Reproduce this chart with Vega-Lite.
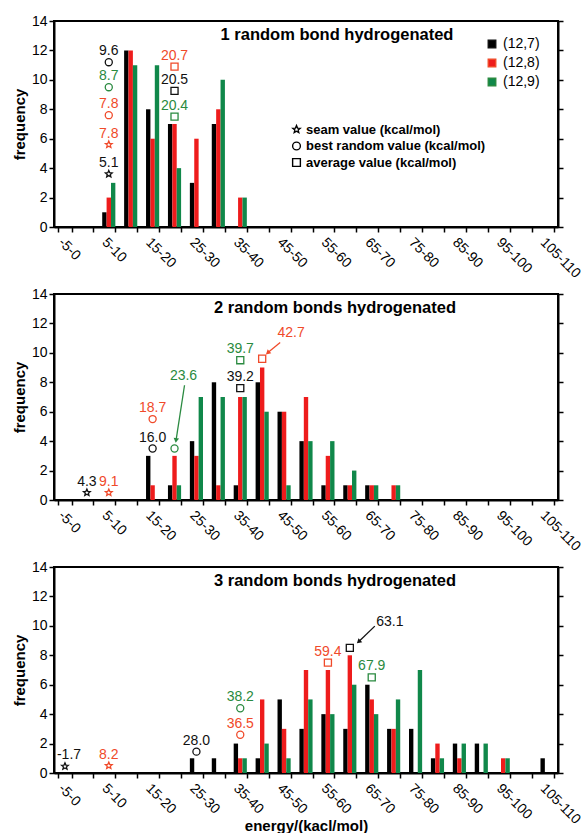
{
"$schema": "https://vega.github.io/schema/vega-lite/v6.json",
"padding": {"left": 11, "top": 13, "right": 0, "bottom": 0},
"background": "white",
"spacing": 67,
"bounds": "flush",
"config": {
  "view": {"stroke": "black", "strokeWidth": 2},
  "axis": {"grid": false, "domainColor": "black", "domainWidth": 2, "tickColor": "black", "tickWidth": 1.5, "tickSize": 5, "labelColor": "black", "titleColor": "black", "labelFont": "Liberation Sans", "titleFont": "Liberation Sans"},
  "legend": {"labelFont": "Liberation Sans", "titleFont": "Liberation Sans"},
  "text": {"font": "Liberation Sans"},
  "title": {"font": "Liberation Sans"}
},
"resolve": {"scale": {"color": "independent", "shape": "independent", "fill": "independent", "stroke": "independent"}},
"datasets": {
  "bars": [
    {"panel":1,"cat":"5-10","series":"(12,7)","freq":1},{"panel":1,"cat":"5-10","series":"(12,8)","freq":2},{"panel":1,"cat":"5-10","series":"(12,9)","freq":3},
    {"panel":1,"cat":"10-15","series":"(12,7)","freq":12},{"panel":1,"cat":"10-15","series":"(12,8)","freq":12},{"panel":1,"cat":"10-15","series":"(12,9)","freq":11},
    {"panel":1,"cat":"15-20","series":"(12,7)","freq":8},{"panel":1,"cat":"15-20","series":"(12,8)","freq":6},{"panel":1,"cat":"15-20","series":"(12,9)","freq":11},
    {"panel":1,"cat":"20-25","series":"(12,7)","freq":7},{"panel":1,"cat":"20-25","series":"(12,8)","freq":7},{"panel":1,"cat":"20-25","series":"(12,9)","freq":4},
    {"panel":1,"cat":"25-30","series":"(12,7)","freq":3},{"panel":1,"cat":"25-30","series":"(12,8)","freq":6},
    {"panel":1,"cat":"30-35","series":"(12,7)","freq":7},{"panel":1,"cat":"30-35","series":"(12,8)","freq":8},{"panel":1,"cat":"30-35","series":"(12,9)","freq":10},
    {"panel":1,"cat":"35-40","series":"(12,8)","freq":2},{"panel":1,"cat":"35-40","series":"(12,9)","freq":2},

    {"panel":2,"cat":"15-20","series":"(12,7)","freq":3},{"panel":2,"cat":"15-20","series":"(12,8)","freq":1},
    {"panel":2,"cat":"20-25","series":"(12,7)","freq":1},{"panel":2,"cat":"20-25","series":"(12,8)","freq":3},{"panel":2,"cat":"20-25","series":"(12,9)","freq":1},
    {"panel":2,"cat":"25-30","series":"(12,7)","freq":4},{"panel":2,"cat":"25-30","series":"(12,8)","freq":3},{"panel":2,"cat":"25-30","series":"(12,9)","freq":7},
    {"panel":2,"cat":"30-35","series":"(12,7)","freq":8},{"panel":2,"cat":"30-35","series":"(12,8)","freq":1},{"panel":2,"cat":"30-35","series":"(12,9)","freq":7},
    {"panel":2,"cat":"35-40","series":"(12,7)","freq":1},{"panel":2,"cat":"35-40","series":"(12,8)","freq":7},{"panel":2,"cat":"35-40","series":"(12,9)","freq":7},
    {"panel":2,"cat":"40-45","series":"(12,7)","freq":8},{"panel":2,"cat":"40-45","series":"(12,8)","freq":9},{"panel":2,"cat":"40-45","series":"(12,9)","freq":6},
    {"panel":2,"cat":"45-50","series":"(12,7)","freq":6},{"panel":2,"cat":"45-50","series":"(12,8)","freq":6},{"panel":2,"cat":"45-50","series":"(12,9)","freq":1},
    {"panel":2,"cat":"50-55","series":"(12,7)","freq":4},{"panel":2,"cat":"50-55","series":"(12,8)","freq":7},{"panel":2,"cat":"50-55","series":"(12,9)","freq":4},
    {"panel":2,"cat":"55-60","series":"(12,7)","freq":1},{"panel":2,"cat":"55-60","series":"(12,8)","freq":3},{"panel":2,"cat":"55-60","series":"(12,9)","freq":4},
    {"panel":2,"cat":"60-65","series":"(12,7)","freq":1},{"panel":2,"cat":"60-65","series":"(12,8)","freq":1},{"panel":2,"cat":"60-65","series":"(12,9)","freq":2},
    {"panel":2,"cat":"65-70","series":"(12,7)","freq":1},{"panel":2,"cat":"65-70","series":"(12,8)","freq":1},{"panel":2,"cat":"65-70","series":"(12,9)","freq":1},
    {"panel":2,"cat":"70-75","series":"(12,8)","freq":1},{"panel":2,"cat":"70-75","series":"(12,9)","freq":1},

    {"panel":3,"cat":"25-30","series":"(12,7)","freq":1},
    {"panel":3,"cat":"30-35","series":"(12,7)","freq":1},
    {"panel":3,"cat":"35-40","series":"(12,7)","freq":2},{"panel":3,"cat":"35-40","series":"(12,8)","freq":1},{"panel":3,"cat":"35-40","series":"(12,9)","freq":1},
    {"panel":3,"cat":"40-45","series":"(12,7)","freq":1},{"panel":3,"cat":"40-45","series":"(12,8)","freq":5},{"panel":3,"cat":"40-45","series":"(12,9)","freq":2},
    {"panel":3,"cat":"45-50","series":"(12,7)","freq":5},{"panel":3,"cat":"45-50","series":"(12,8)","freq":3},{"panel":3,"cat":"45-50","series":"(12,9)","freq":1},
    {"panel":3,"cat":"50-55","series":"(12,7)","freq":3},{"panel":3,"cat":"50-55","series":"(12,8)","freq":7},{"panel":3,"cat":"50-55","series":"(12,9)","freq":5},
    {"panel":3,"cat":"55-60","series":"(12,7)","freq":4},{"panel":3,"cat":"55-60","series":"(12,8)","freq":7},{"panel":3,"cat":"55-60","series":"(12,9)","freq":4},
    {"panel":3,"cat":"60-65","series":"(12,7)","freq":3},{"panel":3,"cat":"60-65","series":"(12,8)","freq":8},{"panel":3,"cat":"60-65","series":"(12,9)","freq":6},
    {"panel":3,"cat":"65-70","series":"(12,7)","freq":6},{"panel":3,"cat":"65-70","series":"(12,8)","freq":5},{"panel":3,"cat":"65-70","series":"(12,9)","freq":4},
    {"panel":3,"cat":"70-75","series":"(12,7)","freq":3},{"panel":3,"cat":"70-75","series":"(12,8)","freq":3},{"panel":3,"cat":"70-75","series":"(12,9)","freq":5},
    {"panel":3,"cat":"75-80","series":"(12,7)","freq":3},{"panel":3,"cat":"75-80","series":"(12,9)","freq":7},
    {"panel":3,"cat":"80-85","series":"(12,7)","freq":1},{"panel":3,"cat":"80-85","series":"(12,8)","freq":2},{"panel":3,"cat":"80-85","series":"(12,9)","freq":1},
    {"panel":3,"cat":"85-90","series":"(12,7)","freq":2},{"panel":3,"cat":"85-90","series":"(12,8)","freq":1},{"panel":3,"cat":"85-90","series":"(12,9)","freq":2},
    {"panel":3,"cat":"90-95","series":"(12,7)","freq":2},{"panel":3,"cat":"90-95","series":"(12,9)","freq":2},
    {"panel":3,"cat":"95-100","series":"(12,8)","freq":1},{"panel":3,"cat":"95-100","series":"(12,9)","freq":1},
    {"panel":3,"cat":"105-110","series":"(12,7)","freq":1}
  ],
  "markers": [
    {"panel":1,"type":"seam","series":"(12,7)","cat":"5-10","pos":3.6,"label":"5.1"},
    {"panel":1,"type":"seam","series":"(12,8)","cat":"5-10","pos":5.6,"label":"7.8"},
    {"panel":1,"type":"best","series":"(12,8)","cat":"5-10","pos":7.6,"label":"7.8"},
    {"panel":1,"type":"best","series":"(12,9)","cat":"5-10","pos":9.5,"label":"8.7"},
    {"panel":1,"type":"best","series":"(12,7)","cat":"5-10","pos":11.2,"label":"9.6"},
    {"panel":1,"type":"average","series":"(12,8)","cat":"20-25","pos":10.9,"label":"20.7"},
    {"panel":1,"type":"average","series":"(12,7)","cat":"20-25","pos":9.25,"label":"20.5"},
    {"panel":1,"type":"average","series":"(12,9)","cat":"20-25","pos":7.5,"label":"20.4"},
    {"panel":2,"type":"seam","series":"(12,7)","cat":"0-5","pos":0.5,"label":"4.3"},
    {"panel":2,"type":"seam","series":"(12,8)","cat":"5-10","pos":0.5,"label":"9.1"},
    {"panel":2,"type":"best","series":"(12,7)","cat":"15-20","pos":3.5,"label":"16.0"},
    {"panel":2,"type":"best","series":"(12,8)","cat":"15-20","pos":5.5,"label":"18.7"},
    {"panel":2,"type":"best","series":"(12,9)","cat":"20-25","pos":3.5},
    {"panel":2,"type":"average","series":"(12,7)","cat":"35-40","pos":7.6,"label":"39.2"},
    {"panel":2,"type":"average","series":"(12,9)","cat":"35-40","pos":9.5,"label":"39.7"},
    {"panel":2,"type":"average","series":"(12,8)","cat":"40-45","pos":9.6},
    {"panel":3,"type":"seam","series":"(12,7)","cat":"-5-0","pos":0.45,"label":"-1.7"},
    {"panel":3,"type":"seam","series":"(12,8)","cat":"5-10","pos":0.5,"label":"8.2"},
    {"panel":3,"type":"best","series":"(12,7)","cat":"25-30","pos":1.45,"label":"28.0"},
    {"panel":3,"type":"best","series":"(12,8)","cat":"35-40","pos":2.6,"label":"36.5"},
    {"panel":3,"type":"best","series":"(12,9)","cat":"35-40","pos":4.4,"label":"38.2"},
    {"panel":3,"type":"average","series":"(12,8)","cat":"55-60","pos":7.5,"label":"59.4"},
    {"panel":3,"type":"average","series":"(12,7)","cat":"60-65","pos":8.5},
    {"panel":3,"type":"average","series":"(12,9)","cat":"65-70","pos":6.5,"label":"67.9"}
  ],
  "arrows": [
    {"panel":2,"series":"(12,9)","label":"23.6","cat":"20-25","lpos":8.45,"y1":7.8,"y2":4.05},
    {"panel":2,"series":"(12,8)","label":"42.7","cat":"40-45","lpos":11.35,"y1":10.7,"y2":10.0},
    {"panel":3,"series":"(12,7)","label":"63.1","cat":"60-65","lpos":10.25,"y1":9.98,"y2":8.92}
  ]
},
"vconcat": [
  {
    "width": 504, "height": 206,
    "title": {"text": "1 random bond hydrogenated", "anchor": "middle", "offset": -29, "dx": 31, "fontSize": 16.5, "fontWeight": "bold", "color": "black"},
    "encoding": {"x": {"field": "cat", "type": "nominal",
      "scale": {"domain": ["-5-0","0-5","5-10","10-15","15-20","20-25","25-30","30-35","35-40","40-45","45-50","50-55","55-60","60-65","65-70","70-75","75-80","80-85","85-90","90-95","95-100","100-105","105-110"], "paddingInner": 0.4, "paddingOuter": 0.2},
      "axis": {"title": null, "tickBand": "extent", "labelAngle": 45, "labelAlign": "left", "labelBaseline": "top", "labelFontSize": 14, "labelPadding": 3, "labelOverlap": false, "labelBound": false,
        "labelExpr": "indexof(['-5-0','5-10','15-20','25-30','35-40','45-50','55-60','65-70','75-80','85-90','95-100','105-110'], datum.value) >= 0 ? datum.value : ''"}}},
    "layer": [
      {"data": {"name": "bars"}, "transform": [{"filter": "datum.panel === 1"}],
       "mark": {"type": "bar"},
       "encoding": {
         "xOffset": {"field": "series", "type": "nominal", "scale": {"domain": ["(12,7)","(12,8)","(12,9)"]}},
         "y": {"field": "freq", "type": "quantitative", "scale": {"domain": [0, 14]}, "axis": {"orient": "left", "values": [0,2,4,6,8,10,12,14], "title": "frequency", "titleFontSize": 15, "titleFontWeight": "bold", "titlePadding": 4, "labelFontSize": 14}},
         "color": {"field": "series", "type": "nominal", "scale": {"domain": ["(12,7)","(12,8)","(12,9)"], "range": ["#000000","#ee1c1c","#10884a"]},
           "legend": {"title": null, "orient": "none", "legendX": 431, "legendY": 16, "symbolType": "square", "symbolSize": 55, "labelFontSize": 14, "rowPadding": 5, "labelOffset": 4, "padding": 0}}
       }},
      {"data": {"name": "markers"}, "transform": [{"filter": "datum.panel === 1"}],
       "mark": {"type": "point", "filled": false, "strokeWidth": 1.3, "size": 50, "opacity": 1},
       "encoding": {
         "y": {"field": "pos", "type": "quantitative", "scale": {"domain": [0, 14]}, "axis": {"orient": "right", "values": [0,2,4,6,8,10,12,14], "labels": false, "title": null}},
         "shape": {"field": "type", "type": "nominal", "scale": {"domain": ["seam","best","average"], "range": ["M0,-1L0.265,-0.364L0.951,-0.309L0.428,0.139L0.588,0.809L0,0.45L-0.588,0.809L-0.428,0.139L-0.951,-0.309L-0.265,-0.364Z","circle","square"]},
           "legend": {"title": null, "orient": "none", "legendX": 236, "legendY": 102, "symbolStrokeColor": "black", "symbolFillColor": "white", "symbolOpacity": 1, "symbolStrokeWidth": 1.4, "symbolSize": 60, "labelFontSize": 13, "labelFontWeight": "bold", "labelColor": "black", "labelLimit": 0, "rowPadding": 1.5, "labelOffset": 3, "padding": 0,
             "labelExpr": "datum.value === 'seam' ? 'seam value (kcal/mol)' : datum.value === 'best' ? 'best random value (kcal/mol)' : 'average value (kcal/mol)'"}},
         "stroke": {"field": "series", "type": "nominal", "scale": {"domain": ["(12,7)","(12,8)","(12,9)"], "range": ["#111111","#f04a2a","#2a8a40"]}, "legend": null}
       }},
      {"data": {"name": "markers"}, "transform": [{"filter": "datum.panel === 1 && datum.label"}],
       "mark": {"type": "text", "dy": -7, "baseline": "alphabetic", "align": "center", "fontSize": 14},
       "encoding": {
         "y": {"field": "pos", "type": "quantitative", "axis": null},
         "text": {"field": "label", "type": "nominal"},
         "fill": {"field": "series", "type": "nominal", "scale": {"domain": ["(12,7)","(12,8)","(12,9)"], "range": ["#111111","#f04a2a","#2a8a40"]}, "legend": null}
       }}
    ],
    "resolve": {"axis": {"y": "independent"}}
  },
  {
    "width": 504, "height": 206,
    "title": {"text": "2 random bonds hydrogenated", "anchor": "middle", "offset": -29, "dx": 29, "fontSize": 16.5, "fontWeight": "bold", "color": "black"},
    "encoding": {"x": {"field": "cat", "type": "nominal",
      "scale": {"domain": ["-5-0","0-5","5-10","10-15","15-20","20-25","25-30","30-35","35-40","40-45","45-50","50-55","55-60","60-65","65-70","70-75","75-80","80-85","85-90","90-95","95-100","100-105","105-110"], "paddingInner": 0.4, "paddingOuter": 0.2},
      "axis": {"title": null, "tickBand": "extent", "labelAngle": 45, "labelAlign": "left", "labelBaseline": "top", "labelFontSize": 14, "labelPadding": 3, "labelOverlap": false, "labelBound": false,
        "labelExpr": "indexof(['-5-0','5-10','15-20','25-30','35-40','45-50','55-60','65-70','75-80','85-90','95-100','105-110'], datum.value) >= 0 ? datum.value : ''"}}},
    "layer": [
      {"data": {"name": "bars"}, "transform": [{"filter": "datum.panel === 2"}],
       "mark": {"type": "bar"},
       "encoding": {
         "xOffset": {"field": "series", "type": "nominal", "scale": {"domain": ["(12,7)","(12,8)","(12,9)"]}},
         "y": {"field": "freq", "type": "quantitative", "scale": {"domain": [0, 14]}, "axis": {"orient": "left", "values": [0,2,4,6,8,10,12,14], "title": "frequency", "titleFontSize": 15, "titleFontWeight": "bold", "titlePadding": 4, "labelFontSize": 14}},
         "color": {"field": "series", "type": "nominal", "scale": {"domain": ["(12,7)","(12,8)","(12,9)"], "range": ["#000000","#ee1c1c","#10884a"]}, "legend": null}
       }},
      {"data": {"name": "markers"}, "transform": [{"filter": "datum.panel === 2"}],
       "mark": {"type": "point", "filled": false, "strokeWidth": 1.3, "size": 50, "opacity": 1},
       "encoding": {
         "y": {"field": "pos", "type": "quantitative", "scale": {"domain": [0, 14]}, "axis": {"orient": "right", "values": [0,2,4,6,8,10,12,14], "labels": false, "title": null}},
         "shape": {"field": "type", "type": "nominal", "scale": {"domain": ["seam","best","average"], "range": ["M0,-1L0.265,-0.364L0.951,-0.309L0.428,0.139L0.588,0.809L0,0.45L-0.588,0.809L-0.428,0.139L-0.951,-0.309L-0.265,-0.364Z","circle","square"]}, "legend": null},
         "stroke": {"field": "series", "type": "nominal", "scale": {"domain": ["(12,7)","(12,8)","(12,9)"], "range": ["#111111","#f04a2a","#2a8a40"]}, "legend": null}
       }},
      {"data": {"name": "markers"}, "transform": [{"filter": "datum.panel === 2 && datum.label"}],
       "mark": {"type": "text", "dy": -7, "baseline": "alphabetic", "align": "center", "fontSize": 14},
       "encoding": {
         "y": {"field": "pos", "type": "quantitative", "axis": null},
         "text": {"field": "label", "type": "nominal"},
         "fill": {"field": "series", "type": "nominal", "scale": {"domain": ["(12,7)","(12,8)","(12,9)"], "range": ["#111111","#f04a2a","#2a8a40"]}, "legend": null}
       }},
      {"data": {"name": "arrows"}, "transform": [{"filter": "datum.label === '23.6'"}],
       "layer": [
         {"mark": {"type": "text", "dx": 9, "baseline": "middle", "fontSize": 14, "color": "#2a8a40"},
          "encoding": {"y": {"field": "lpos", "type": "quantitative", "axis": null}, "text": {"field": "label", "type": "nominal"}}},
         {"mark": {"type": "rule", "color": "#2a8a40", "strokeWidth": 1.3, "xOffset": 10, "x2Offset": 1.5},
          "encoding": {"x2": {"field": "cat"}, "y": {"field": "y1", "type": "quantitative", "axis": null}, "y2": {"field": "y2"}}},
         {"mark": {"type": "point", "shape": "triangle-up", "filled": true, "color": "#2a8a40", "opacity": 1, "size": 30, "angle": 188, "xOffset": 1.5},
          "encoding": {"y": {"field": "y2", "type": "quantitative", "axis": null}}}
       ]},
      {"data": {"name": "arrows"}, "transform": [{"filter": "datum.label === '42.7'"}],
       "layer": [
         {"mark": {"type": "text", "dx": 29, "baseline": "middle", "fontSize": 14, "color": "#f04a2a"},
          "encoding": {"y": {"field": "lpos", "type": "quantitative", "axis": null}, "text": {"field": "label", "type": "nominal"}}},
         {"mark": {"type": "rule", "color": "#f04a2a", "strokeWidth": 1.3, "xOffset": 18, "x2Offset": 5.5},
          "encoding": {"x2": {"field": "cat"}, "y": {"field": "y1", "type": "quantitative", "axis": null}, "y2": {"field": "y2"}}},
         {"mark": {"type": "point", "shape": "triangle-up", "filled": true, "color": "#f04a2a", "opacity": 1, "size": 30, "angle": 229, "xOffset": 5.5},
          "encoding": {"y": {"field": "y2", "type": "quantitative", "axis": null}}}
       ]}
    ],
    "resolve": {"axis": {"y": "independent"}}
  },
  {
    "width": 504, "height": 206,
    "title": {"text": "3 random bonds hydrogenated", "anchor": "middle", "offset": -29, "dx": 29, "fontSize": 16.5, "fontWeight": "bold", "color": "black"},
    "encoding": {"x": {"field": "cat", "type": "nominal",
      "scale": {"domain": ["-5-0","0-5","5-10","10-15","15-20","20-25","25-30","30-35","35-40","40-45","45-50","50-55","55-60","60-65","65-70","70-75","75-80","80-85","85-90","90-95","95-100","100-105","105-110"], "paddingInner": 0.4, "paddingOuter": 0.2},
      "axis": {"title": "energy/(kacl/mol)", "titleFontSize": 15, "titleFontWeight": "bold", "titleY": 52, "titleBaseline": "middle", "tickBand": "extent", "labelAngle": 45, "labelAlign": "left", "labelBaseline": "top", "labelFontSize": 14, "labelPadding": 3, "labelOverlap": false, "labelBound": false,
        "labelExpr": "indexof(['-5-0','5-10','15-20','25-30','35-40','45-50','55-60','65-70','75-80','85-90','95-100','105-110'], datum.value) >= 0 ? datum.value : ''"}}},
    "layer": [
      {"data": {"name": "bars"}, "transform": [{"filter": "datum.panel === 3"}],
       "mark": {"type": "bar"},
       "encoding": {
         "xOffset": {"field": "series", "type": "nominal", "scale": {"domain": ["(12,7)","(12,8)","(12,9)"]}},
         "y": {"field": "freq", "type": "quantitative", "scale": {"domain": [0, 14]}, "axis": {"orient": "left", "values": [0,2,4,6,8,10,12,14], "title": "frequency", "titleFontSize": 15, "titleFontWeight": "bold", "titlePadding": 4, "labelFontSize": 14}},
         "color": {"field": "series", "type": "nominal", "scale": {"domain": ["(12,7)","(12,8)","(12,9)"], "range": ["#000000","#ee1c1c","#10884a"]}, "legend": null}
       }},
      {"data": {"name": "markers"}, "transform": [{"filter": "datum.panel === 3"}],
       "mark": {"type": "point", "filled": false, "strokeWidth": 1.3, "size": 50, "opacity": 1},
       "encoding": {
         "y": {"field": "pos", "type": "quantitative", "scale": {"domain": [0, 14]}, "axis": {"orient": "right", "values": [0,2,4,6,8,10,12,14], "labels": false, "title": null}},
         "shape": {"field": "type", "type": "nominal", "scale": {"domain": ["seam","best","average"], "range": ["M0,-1L0.265,-0.364L0.951,-0.309L0.428,0.139L0.588,0.809L0,0.45L-0.588,0.809L-0.428,0.139L-0.951,-0.309L-0.265,-0.364Z","circle","square"]}, "legend": null},
         "stroke": {"field": "series", "type": "nominal", "scale": {"domain": ["(12,7)","(12,8)","(12,9)"], "range": ["#111111","#f04a2a","#2a8a40"]}, "legend": null}
       }},
      {"data": {"name": "markers"}, "transform": [{"filter": "datum.panel === 3 && datum.label && datum.cat !== '-5-0'"}],
       "mark": {"type": "text", "dy": -7, "baseline": "alphabetic", "align": "center", "fontSize": 14},
       "encoding": {
         "y": {"field": "pos", "type": "quantitative", "axis": null},
         "text": {"field": "label", "type": "nominal"},
         "fill": {"field": "series", "type": "nominal", "scale": {"domain": ["(12,7)","(12,8)","(12,9)"], "range": ["#111111","#f04a2a","#2a8a40"]}, "legend": null}
       }},
      {"data": {"name": "markers"}, "transform": [{"filter": "datum.panel === 3 && datum.cat === '-5-0'"}],
       "mark": {"type": "text", "dy": -7, "dx": -8, "baseline": "alphabetic", "align": "left", "fontSize": 14, "color": "#111111"},
       "encoding": {
         "y": {"field": "pos", "type": "quantitative", "axis": null},
         "text": {"field": "label", "type": "nominal"}
       }},
      {"data": {"name": "arrows"}, "transform": [{"filter": "datum.label === '63.1'"}],
       "layer": [
         {"mark": {"type": "text", "dx": 40, "baseline": "middle", "fontSize": 14, "color": "#111111"},
          "encoding": {"y": {"field": "lpos", "type": "quantitative", "axis": null}, "text": {"field": "label", "type": "nominal"}}},
         {"mark": {"type": "rule", "color": "#111111", "strokeWidth": 1.3, "xOffset": 25, "x2Offset": 8.8},
          "encoding": {"x2": {"field": "cat"}, "y": {"field": "y1", "type": "quantitative", "axis": null}, "y2": {"field": "y2"}}},
         {"mark": {"type": "point", "shape": "triangle-up", "filled": true, "color": "#111111", "opacity": 1, "size": 30, "angle": 227, "xOffset": 8.8},
          "encoding": {"y": {"field": "y2", "type": "quantitative", "axis": null}}}
       ]}
    ],
    "resolve": {"axis": {"y": "independent"}}
  }
]
}
